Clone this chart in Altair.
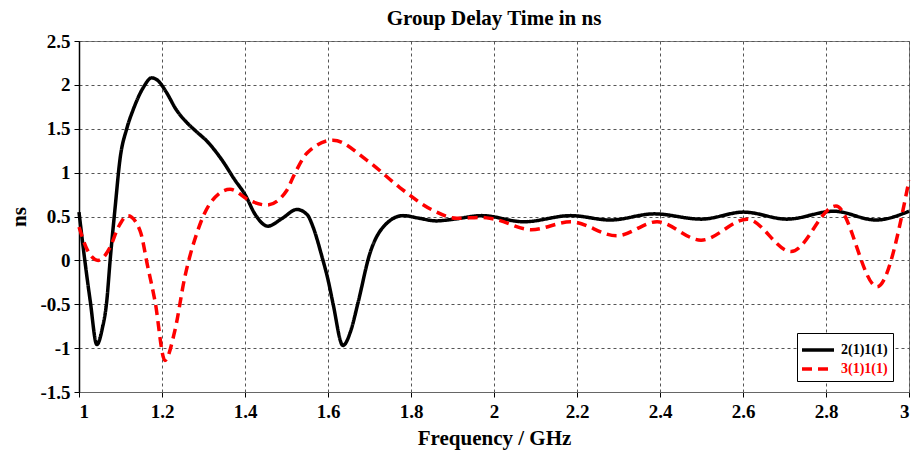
import altair as alt
import pandas as pd

series_names = ["2(1)1(1)", "3(1)1(1)"]

black_x = [1.000, 1.014, 1.027, 1.043, 1.056, 1.067, 1.075, 1.087, 1.099, 1.115, 1.130,
           1.155, 1.175, 1.190, 1.210, 1.234, 1.260, 1.280, 1.310, 1.345, 1.375, 1.400,
           1.425, 1.455, 1.490, 1.525, 1.550, 1.564, 1.585, 1.600, 1.612, 1.636, 1.655,
           1.672, 1.701, 1.733, 1.781, 1.820, 1.860, 1.904, 1.971, 2.072, 2.185, 2.280,
           2.386, 2.499, 2.602, 2.706, 2.819, 2.920, 3.000]
black_y = [0.55, 0.00, -0.46, -0.96, -0.78, -0.46, 0.00, 0.60, 1.16, 1.50, 1.71,
           1.97, 2.08, 2.05, 1.92, 1.72, 1.57, 1.48, 1.35, 1.14, 0.92, 0.75,
           0.52, 0.39, 0.48, 0.58, 0.52, 0.38, 0.05, -0.22, -0.49, -0.97, -0.80,
           -0.49, 0.08, 0.38, 0.51, 0.48, 0.45, 0.47, 0.51, 0.44, 0.51, 0.46,
           0.53, 0.47, 0.55, 0.47, 0.56, 0.46, 0.56]

red_x = [1.000, 1.020, 1.046, 1.075, 1.095, 1.118, 1.147, 1.166, 1.183, 1.207, 1.231,
         1.255, 1.284, 1.316, 1.364, 1.412, 1.453, 1.501, 1.516, 1.549, 1.612, 1.694,
         1.773, 1.853, 1.910, 1.971, 2.000, 2.090, 2.185, 2.296, 2.393, 2.499, 2.610,
         2.716, 2.824, 2.923, 3.000]
red_y = [0.38, 0.12, 0.00, 0.15, 0.38, 0.51, 0.34, -0.08, -0.46, -1.14, -0.80,
         -0.19, 0.31, 0.65, 0.81, 0.68, 0.63, 0.80, 0.95, 1.22, 1.37, 1.14,
         0.83, 0.57, 0.48, 0.49, 0.47, 0.35, 0.44, 0.28, 0.44, 0.23, 0.47,
         0.10, 0.62, -0.30, 0.91]

x_ticks = [1, 1.2, 1.4, 1.6, 1.8, 2, 2.2, 2.4, 2.6, 2.8, 3]
y_ticks = [-1.5, -1, -0.5, 0, 0.5, 1, 1.5, 2, 2.5]

rows = []
for i, (xv, yv) in enumerate(zip(black_x, black_y)):
    rows.append({"f": xv, "d": yv, "s": series_names[0], "o": i})
for i, (xv, yv) in enumerate(zip(red_x, red_y)):
    rows.append({"f": xv, "d": yv, "s": series_names[1], "o": i})
df = pd.DataFrame(rows)

FONT = "Liberation Serif"

legend = alt.Legend(
    title=None,
    orient="none",
    legendX=718,
    legendY=292,
    direction="vertical",
    symbolType="M-1.6,0H1.6",
    symbolSize=400,
    symbolStrokeWidth=3.5,
    symbolOffset=4,
    labelFont=FONT,
    labelFontSize=14,
    labelFontWeight="bold",
    labelOffset=11,
    labelColor=alt.ExprRef("datum.value === '3(1)1(1)' ? 'red' : 'black'"),
    rowPadding=-2,
    padding=5,
    strokeColor="black",
    fillColor="white",
)

chart = alt.Chart(df).mark_line(strokeWidth=3.5, interpolate="monotone").encode(
    x=alt.X("f:Q", scale=alt.Scale(domain=[1, 3], nice=False, zero=False),
            axis=alt.Axis(values=x_ticks, title="Frequency / GHz",
                          labelExpr="'' + datum.value",
                          domainColor="#666666", labelPadding=5, titlePadding=6)),
    y=alt.Y("d:Q", scale=alt.Scale(domain=[-1.5, 2.5], nice=False, zero=False),
            axis=alt.Axis(values=y_ticks, title="ns",
                          labelExpr="'' + datum.value",
                          domainColor="black", domainWidth=1.5, labelPadding=4,
                          titlePadding=10)),
    color=alt.Color("s:N", scale=alt.Scale(domain=series_names, range=["black", "red"]),
                    legend=legend),
    strokeDash=alt.StrokeDash("s:N", scale=alt.Scale(domain=series_names, range=[[1, 0], [10, 6]]),
                              legend=legend),
    order="o:Q",
).properties(
    width=830,
    height=351,
    background="white",
    title=alt.TitleParams("Group Delay Time in ns", font=FONT, fontSize=21, fontWeight="bold",
                          anchor="middle", offset=3, color="black"),
    autosize=alt.AutoSizeParams(type="none"),
    padding={"left": 79, "top": 41, "right": 5, "bottom": 60},
).configure_view(
    stroke="#808080", strokeWidth=1
).configure_axis(
    labelFont=FONT, labelFontSize=19, labelFontWeight="bold", labelColor="black",
    titleFont=FONT, titleFontSize=21, titleFontWeight="bold", titleColor="black",
    grid=True, gridColor="#555555", gridDash=[3, 3], gridWidth=1, gridOpacity=1,
    tickColor="black", tickSize=5, domainWidth=1,
)

chart.save("out.html", embed_options={"renderer": "svg", "actions": False})
